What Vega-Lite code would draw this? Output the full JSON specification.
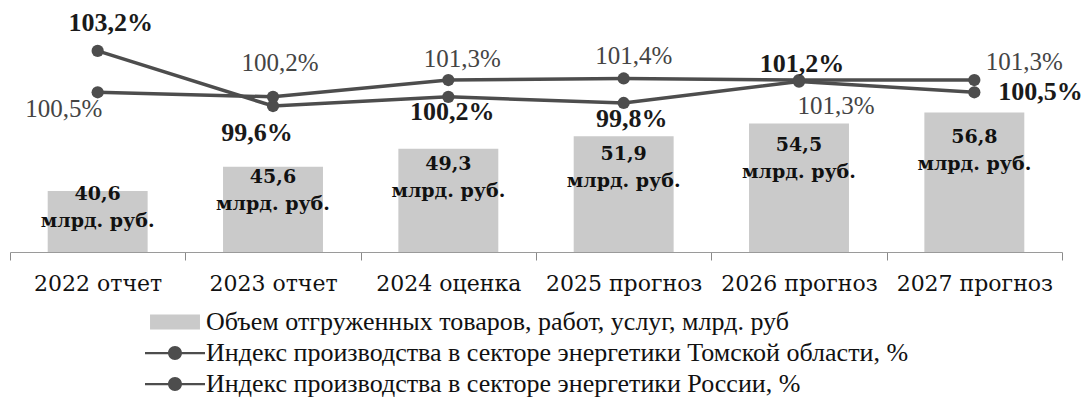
{
  "$schema": "https://vega.github.io/schema/vega-lite/v6.json",
  "width": 1052,
  "height": 252,
  "padding": {"left": 9, "top": 0, "right": 0, "bottom": 0},
  "background": "white",
  "datasets": {
    "d": [
      {"year": "2022 отчет", "series": "Объем отгруженных товаров, работ, услуг, млрд. руб", "value": 40.6},
      {"year": "2023 отчет", "series": "Объем отгруженных товаров, работ, услуг, млрд. руб", "value": 45.6},
      {"year": "2024 оценка", "series": "Объем отгруженных товаров, работ, услуг, млрд. руб", "value": 49.3},
      {"year": "2025 прогноз", "series": "Объем отгруженных товаров, работ, услуг, млрд. руб", "value": 51.9},
      {"year": "2026 прогноз", "series": "Объем отгруженных товаров, работ, услуг, млрд. руб", "value": 54.5},
      {"year": "2027 прогноз", "series": "Объем отгруженных товаров, работ, услуг, млрд. руб", "value": 56.8},
      {"year": "2022 отчет", "series": "Индекс производства в секторе энергетики Томской области, %", "value": 103.2},
      {"year": "2023 отчет", "series": "Индекс производства в секторе энергетики Томской области, %", "value": 99.6},
      {"year": "2024 оценка", "series": "Индекс производства в секторе энергетики Томской области, %", "value": 100.2},
      {"year": "2025 прогноз", "series": "Индекс производства в секторе энергетики Томской области, %", "value": 99.8},
      {"year": "2026 прогноз", "series": "Индекс производства в секторе энергетики Томской области, %", "value": 101.2},
      {"year": "2027 прогноз", "series": "Индекс производства в секторе энергетики Томской области, %", "value": 100.5},
      {"year": "2022 отчет", "series": "Индекс производства в секторе энергетики России, %", "value": 100.5},
      {"year": "2023 отчет", "series": "Индекс производства в секторе энергетики России, %", "value": 100.2},
      {"year": "2024 оценка", "series": "Индекс производства в секторе энергетики России, %", "value": 101.3},
      {"year": "2025 прогноз", "series": "Индекс производства в секторе энергетики России, %", "value": 101.4},
      {"year": "2026 прогноз", "series": "Индекс производства в секторе энергетики России, %", "value": 101.3},
      {"year": "2027 прогноз", "series": "Индекс производства в секторе энергетики России, %", "value": 101.3}
    ]
  },
  "data": {"name": "d"},
  "encoding": {
    "x": {
      "field": "year",
      "type": "nominal",
      "scale": {"domain": ["2022 отчет", "2023 отчет", "2024 оценка", "2025 прогноз", "2026 прогноз", "2027 прогноз"], "paddingInner": 0, "paddingOuter": 0},
      "axis": {
        "title": null,
        "labelFont": "DejaVu Serif",
        "labelFontSize": 22,
        "labelColor": "#111111",
        "labelAngle": 0,
        "labelPadding": 13,
        "labelLimit": 0,
        "domainColor": "#9a9a9a",
        "domainWidth": 1,
        "tickColor": "#8a8a8a",
        "tickSize": 8,
        "tickBand": "extent",
        "grid": false
      }
    }
  },
  "layer": [
    {
      "transform": [{"filter": "test(/Объем/, datum.series)"}],
      "layer": [
        {
          "mark": {"type": "bar", "width": {"band": 0.57}},
          "encoding": {
            "y": {"field": "value", "type": "quantitative", "scale": {"domain": [28, 80], "zero": false, "nice": false}, "axis": null},
            "y2": {"datum": 28},
            "color": {
              "field": "series",
              "type": "nominal",
              "scale": {
                "domain": ["Объем отгруженных товаров, работ, услуг, млрд. руб", "Индекс производства в секторе энергетики Томской области, %", "Индекс производства в секторе энергетики России, %"],
                "range": ["#cacaca", "#4d4d4d", "#4d4d4d"]
              },
              "legend": {
                "title": null,
                "orient": "none",
                "legendX": 152,
                "legendY": 309,
                "direction": "vertical",
                "padding": 0,
                "labelFont": "Liberation Serif",
                "labelFontSize": 26,
                "labelColor": "#111111",
                "labelLimit": 0,
                "labelOffset": 18,
                "symbolSize": 225,
                "rowPadding": 5,
                "encode": {
                  "symbols": {
                    "update": {
                      "shape": {"signal": "datum.index === 0 ? 'M-3.33,-1H3.33V1H-3.33Z' : 'M-4,-0.15H4V0.15H-4Z M0.93,0A0.93,0.93 0 1 1 -0.93,0A0.93,0.93 0 1 1 0.93,0Z'"},
                      "fill": {"signal": "datum.index === 0 ? '#cacaca' : '#4d4d4d'"},
                      "stroke": {"value": "transparent"},
                      "strokeWidth": {"value": 0},
                      "opacity": {"value": 1}
                    }
                  }
                }
              }
            }
          }
        },
        {
          "mark": {
            "type": "text",
            "font": "DejaVu Serif",
            "fontWeight": "bold",
            "fontSize": 19,
            "color": "#111111",
            "baseline": "middle",
            "align": "center",
            "lineHeight": 27,
            "dy": -13,
            "text": {"expr": "[replace(format(datum.value, '.1f'), '.', ','), 'млрд. руб.']"}
          },
          "encoding": {
            "y": {"field": "value", "type": "quantitative", "scale": {"domain": [28, 99.2], "zero": false, "nice": false}, "axis": null}
          }
        }
      ],
      "resolve": {"scale": {"y": "independent"}}
    },
    {
      "transform": [{"filter": "test(/Индекс/, datum.series)"}],
      "encoding": {
        "y": {"field": "value", "type": "quantitative", "scale": {"domain": [90.06, 106.53], "zero": false, "nice": false}, "axis": null}
      },
      "layer": [
        {
          "mark": {"type": "line", "strokeWidth": 3.5, "point": {"filled": true, "size": 150}},
          "encoding": {
            "color": {"field": "series", "type": "nominal"}
          }
        },
        {
          "transform": [{"filter": "test(/Томской/, datum.series) && datum.year == '2022 отчет'"}],
          "mark": {"type": "text", "font": "Liberation Serif", "fontWeight": "bold", "fontSize": 26, "color": "#1a1a1a", "baseline": "middle", "dx": 13, "dy": -28, "text": {"expr": "replace(format(datum.value, '.1f'), '.', ',') + '%'"}}
        },
        {
          "transform": [{"filter": "test(/Томской/, datum.series) && datum.year == '2023 отчет'"}],
          "mark": {"type": "text", "font": "Liberation Serif", "fontWeight": "bold", "fontSize": 26, "color": "#1a1a1a", "baseline": "middle", "dx": -16, "dy": 27, "text": {"expr": "replace(format(datum.value, '.1f'), '.', ',') + '%'"}}
        },
        {
          "transform": [{"filter": "test(/Томской/, datum.series) && datum.year == '2024 оценка'"}],
          "mark": {"type": "text", "font": "Liberation Serif", "fontWeight": "bold", "fontSize": 26, "color": "#1a1a1a", "baseline": "middle", "dx": 4, "dy": 15, "text": {"expr": "replace(format(datum.value, '.1f'), '.', ',') + '%'"}}
        },
        {
          "transform": [{"filter": "test(/Томской/, datum.series) && datum.year == '2025 прогноз'"}],
          "mark": {"type": "text", "font": "Liberation Serif", "fontWeight": "bold", "fontSize": 26, "color": "#1a1a1a", "baseline": "middle", "dx": 8, "dy": 16, "text": {"expr": "replace(format(datum.value, '.1f'), '.', ',') + '%'"}}
        },
        {
          "transform": [{"filter": "test(/Томской/, datum.series) && datum.year == '2026 прогноз'"}],
          "mark": {"type": "text", "font": "Liberation Serif", "fontWeight": "bold", "fontSize": 26, "color": "#1a1a1a", "baseline": "middle", "dx": 3, "dy": -18, "text": {"expr": "replace(format(datum.value, '.1f'), '.', ',') + '%'"}}
        },
        {
          "transform": [{"filter": "test(/Томской/, datum.series) && datum.year == '2027 прогноз'"}],
          "mark": {"type": "text", "font": "Liberation Serif", "fontWeight": "bold", "fontSize": 26, "color": "#1a1a1a", "baseline": "middle", "align": "left", "dx": 24, "dy": 0, "text": {"expr": "replace(format(datum.value, '.1f'), '.', ',') + '%'"}}
        },
        {
          "transform": [{"filter": "test(/России/, datum.series) && datum.year == '2022 отчет'"}],
          "mark": {"type": "text", "font": "Liberation Serif", "fontSize": 25, "color": "#444444", "baseline": "middle", "dx": -34, "dy": 17, "text": {"expr": "replace(format(datum.value, '.1f'), '.', ',') + '%'"}}
        },
        {
          "transform": [{"filter": "test(/России/, datum.series) && datum.year == '2023 отчет'"}],
          "mark": {"type": "text", "font": "Liberation Serif", "fontSize": 25, "color": "#444444", "baseline": "middle", "dx": 7, "dy": -34, "text": {"expr": "replace(format(datum.value, '.1f'), '.', ',') + '%'"}}
        },
        {
          "transform": [{"filter": "test(/России/, datum.series) && datum.year == '2024 оценка'"}],
          "mark": {"type": "text", "font": "Liberation Serif", "fontSize": 25, "color": "#444444", "baseline": "middle", "dx": 14, "dy": -21, "text": {"expr": "replace(format(datum.value, '.1f'), '.', ',') + '%'"}}
        },
        {
          "transform": [{"filter": "test(/России/, datum.series) && datum.year == '2025 прогноз'"}],
          "mark": {"type": "text", "font": "Liberation Serif", "fontSize": 25, "color": "#444444", "baseline": "middle", "dx": 10, "dy": -22, "text": {"expr": "replace(format(datum.value, '.1f'), '.', ',') + '%'"}}
        },
        {
          "transform": [{"filter": "test(/России/, datum.series) && datum.year == '2026 прогноз'"}],
          "mark": {"type": "text", "font": "Liberation Serif", "fontSize": 25, "color": "#444444", "baseline": "middle", "dx": 37, "dy": 26, "text": {"expr": "replace(format(datum.value, '.1f'), '.', ',') + '%'"}}
        },
        {
          "transform": [{"filter": "test(/России/, datum.series) && datum.year == '2027 прогноз'"}],
          "mark": {"type": "text", "font": "Liberation Serif", "fontSize": 25, "color": "#444444", "baseline": "middle", "dx": 50, "dy": -18, "text": {"expr": "replace(format(datum.value, '.1f'), '.', ',') + '%'"}}
        }
      ]
    }
  ],
  "resolve": {"scale": {"y": "independent"}},
  "config": {"view": {"stroke": null}}
}
